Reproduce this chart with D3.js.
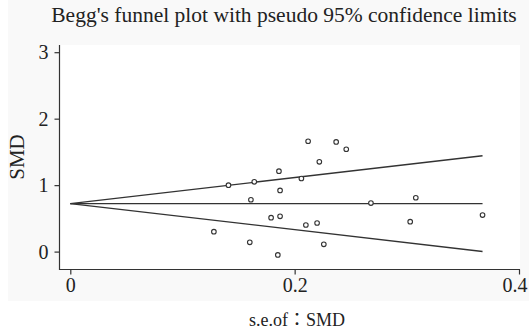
<!DOCTYPE html>
<html>
<head>
<meta charset="utf-8">
<script src="https://cdn.jsdelivr.net/npm/d3@7"></script>
<style>
  body { margin: 0; background: #fff; }
  text { font-family: "Liberation Serif", "DejaVu Serif", serif; fill: #222; }
</style>
</head>
<body>
<div id="chart"></div>
<script>
// standard errors (x) and SMD (y) for each study
const seValues = [0.128, 0.160, 0.141, 0.164, 0.161, 0.185, 0.179, 0.187, 0.186, 0.187,
  0.206, 0.212, 0.222, 0.210, 0.220, 0.237, 0.246, 0.268, 0.308, 0.303, 0.226, 0.3675];
const smdValues = [0.30, 0.14, 1.00, 1.05, 0.78, -0.05, 0.51, 0.53, 1.21, 0.92,
  1.10, 1.66, 1.35, 0.40, 0.43, 1.65, 1.54, 0.73, 0.81, 0.45, 0.11, 0.55];
const pooled = 0.722;
const xTicks = [0, 0.2, 0.4];
const yTicks = [0, 1, 2, 3];
const title = "Begg's funnel plot with pseudo 95% confidence limits";
const xTitle = "s.e.of：SMD";
const yTitle = "SMD";

const width = 529, height = 331;
const margin = { top: 45, right: 9, bottom: 61, left: 59 };

const svg = d3.select('#chart').append('svg')
  .attr('width', width)
  .attr('height', height);

// light outer region like the Stata export
svg.append('rect').attr('x', 8).attr('y', 0).attr('width', width - 8).attr('height', 301).attr('fill', '#f9f9f9');
svg.append('rect').attr('x', margin.left).attr('y', margin.top)
  .attr('width', width - margin.left - margin.right)
  .attr('height', height - margin.top - margin.bottom).attr('fill', '#fff');

const x = d3.scaleLinear().domain([0, 0.4]).range([70.3, 519]);
const y = d3.scaleLinear().domain([0, 3]).range([251.6, 52.2]);

// axes
const xAxis = svg.append('g')
  .attr('transform', `translate(0,${height - margin.bottom - 0.5})`)
  .call(d3.axisBottom(x).tickValues(xTicks).tickFormat(d3.format('')).tickSize(5).tickPadding(3));
xAxis.select('.domain').attr('d', `M${margin.left},0H${width - margin.right}`);
// last label is pushed left so it stays inside the frame
xAxis.selectAll('.tick text').filter(d => d === 0.4)
  .attr('text-anchor', 'end').attr('x', 8);

const yAxis = svg.append('g')
  .attr('transform', `translate(${margin.left + 0.5},0)`)
  .call(d3.axisLeft(y).tickValues(yTicks).tickFormat(d3.format('d')).tickSize(5).tickPadding(6));
yAxis.select('.domain').attr('d', `M0,${margin.top}V${height - margin.bottom}`);

svg.selectAll('.tick line, .domain').attr('stroke', '#333').attr('stroke-width', 1.2);
svg.selectAll('.tick text').style('font-size', '20px').attr('fill', '#222');

// funnel: pooled estimate and pseudo 95% limits
const seMax = d3.max(seValues);
const funnel = [
  [[0, pooled], [seMax, pooled]],
  [[0, pooled], [seMax, pooled + 1.96 * seMax]],
  [[0, pooled], [seMax, pooled - 1.96 * seMax]]
];
const line = d3.line().x(d => x(d[0])).y(d => y(d[1]));
svg.selectAll('.funnel')
  .data(funnel)
  .enter().append('path')
  .attr('class', 'funnel')
  .attr('d', line)
  .attr('fill', 'none')
  .attr('stroke', '#333')
  .attr('stroke-width', 1.3);

// studies
svg.selectAll('.dot')
  .data(seValues.map((s, i) => [s, smdValues[i]]))
  .enter().append('circle')
  .attr('cx', d => x(d[0]))
  .attr('cy', d => y(d[1]))
  .attr('r', 2.3)
  .attr('fill', '#fff')
  .attr('stroke', '#333')
  .attr('stroke-width', 1.1);

// titles
svg.append('text')
  .attr('x', 284).attr('y', 22)
  .attr('text-anchor', 'middle')
  .style('font-size', '21.5px')
  .text(title);

svg.append('text')
  .attr('transform', 'translate(24,157) rotate(-90)')
  .attr('text-anchor', 'middle')
  .style('font-size', '21px')
  .text(yTitle);

svg.append('text')
  .attr('x', 297).attr('y', 326)
  .attr('text-anchor', 'middle')
  .style('font-size', '18px')
  .style('font-family', '"Liberation Serif", "Noto Sans CJK TC", serif')
  .text(xTitle);
</script>
</body>
</html>
